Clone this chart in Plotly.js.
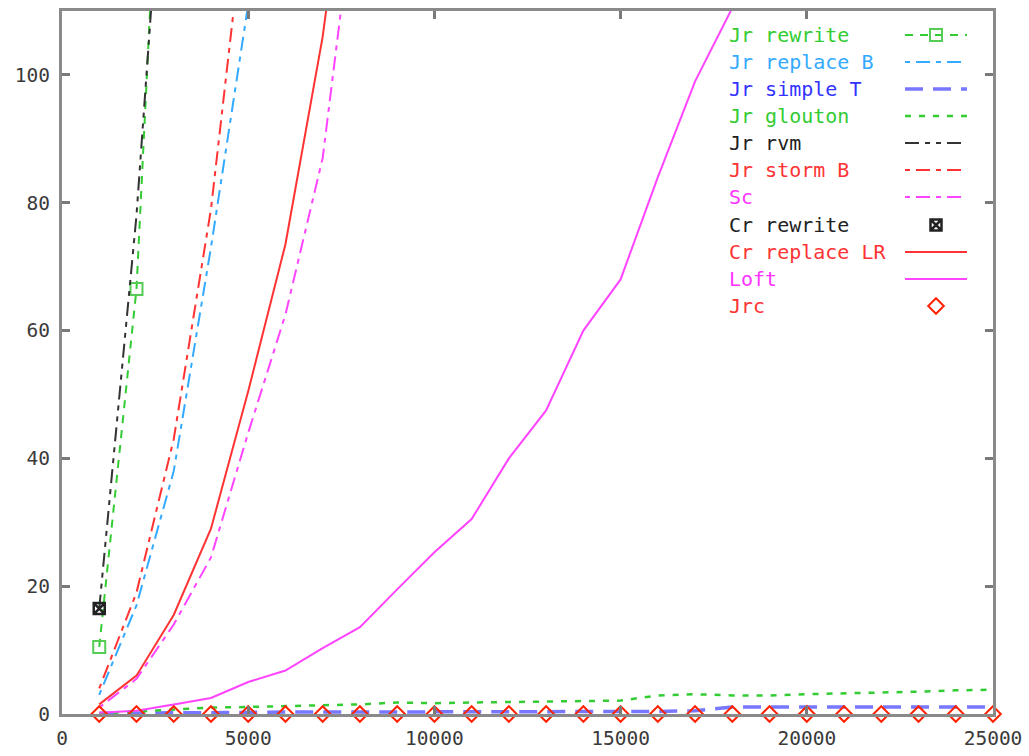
<!DOCTYPE html>
<html><head><meta charset="utf-8">
<script src="https://cdn.plot.ly/plotly-3.0.1.min.js"></script>
<style>html,body{margin:0;padding:0;background:#fff}#chart{width:1029px;height:756px}</style>
</head><body><div id="chart"></div>
<script>
// ---- data ----
const xAll = [1000,2000,3000,4000,5000,6000,7000,8000,9000,10000,11000,12000,13000,14000,15000,16000,17000,18000,19000,20000,21000,22000,23000,24000,25000];
const jrRewriteX = [1000,2000,3000];
const jrRewriteY = [10.5,66.5,186];
const jrReplaceBX = [1000,2000,3000,4000,5000,6000];
const jrReplaceBY = [3,17,38,73,111,160];
const jrSimpleTY = [0.1,0.2,0.2,0.2,0.3,0.3,0.3,0.3,0.3,0.4,0.4,0.4,0.4,0.4,0.4,0.4,0.5,1.1,1.1,1.1,1.1,1.1,1.1,1.1,1.1];
const jrGloutonY = [0.1,0.4,0.8,1.0,1.1,1.2,1.3,1.5,1.8,1.7,1.8,1.9,2.0,2.1,2.1,2.9,3.1,2.9,2.9,3.1,3.2,3.4,3.5,3.7,3.8];
const jrRvmX = [1000,2000,3000];
const jrRvmY = [16.5,78,160];
const jrStormBX = [1000,2000,3000,4000,5000];
const jrStormBY = [4,19,43,79,130];
const scX = [1000,2000,3000,4000,5000,6000,7000,8000];
const scY = [1,5.5,14,24.5,44,62.5,87,134];
const crRewriteX = [1000];
const crRewriteY = [16.5];
const crReplaceLRX = [1000,2000,3000,4000,5000,6000,7000,8000];
const crReplaceLRY = [1.5,6,15.5,29,50.5,73.5,106,150];
const loftX = [1000,2000,3000,4000,5000,6000,7000,8000,9000,10000,11000,12000,13000,14000,15000,16000,17000,18000,19000];
const loftY = [0.2,0.5,1.5,2.5,5,6.8,10.3,13.6,19.5,25.3,30.5,40,47.5,60,68,84,99,110.5,125];
const jrcY = xAll.map(() => 0);
const names = ["Jr rewrite","Jr replace B","Jr simple T","Jr glouton","Jr rvm","Jr storm B","Sc","Cr rewrite","Cr replace LR","Loft","Jrc"];
const xTicks = [0,5000,10000,15000,20000,25000];
const yTicks = [0,20,40,60,80,100];

// ---- styles ----
const styles = [
  {color:'#33cc33', dash:'8px,7px', width:2, marker:{symbol:'square-open', size:12, color:'#55cc55', line:{width:2}} , mode:'lines+markers'},
  {color:'#33aaff', dash:'5px,6px,14px,6px', width:2, mode:'lines'},
  {color:'#7777ff', dash:'18px,10px', width:3.5, mode:'lines'},
  {color:'#33cc33', dash:'6px,8px', width:2.5, mode:'lines'},
  {color:'#333333', dash:'14px,6px,5px,6px,5px,6px', width:2, mode:'lines'},
  {color:'#ff3333', dash:'5px,6px,14px,6px', width:2, mode:'lines'},
  {color:'#ff44ff', dash:'5px,6px,14px,6px', width:2, mode:'lines'},
  {color:'#222222', width:2, marker:{symbol:'square-x-open', size:11, color:'#222', line:{width:2.5}}, mode:'markers'},
  {color:'#ff3333', dash:'solid', width:2, mode:'lines'},
  {color:'#ff44ff', dash:'solid', width:2, mode:'lines'},
  {color:'#ff2200', width:2, marker:{symbol:'diamond-open', size:12, color:'#ff2200', line:{width:2}}, mode:'markers'}
];
const series = [
  [jrRewriteX, jrRewriteY],[jrReplaceBX, jrReplaceBY],[xAll, jrSimpleTY],[xAll, jrGloutonY],
  [jrRvmX, jrRvmY],[jrStormBX, jrStormBY],[scX, scY],[crRewriteX, crRewriteY],
  [crReplaceLRX, crReplaceLRY],[loftX, loftY],[xAll, jrcY]
];
const textColors = ['#33cc33','#33aaff','#3333ff','#33cc33','#222222','#ff3333','#ff33ff','#222222','#ff3333','#ff33ff','#ff3333'];

const traces = [];
series.forEach((s,i) => {
  const st = styles[i];
  const t = {x:s[0], y:s[1], type:'scatter', mode:st.mode, name:names[i], showlegend:false,
    line:{color:st.color, dash:st.dash||'solid', width:st.width}};
  if (st.marker) t.marker = st.marker;
  if (i === 10) t.cliponaxis = false;
  traces.push(t);
});

// custom legend (text left, sample right), gnuplot style
const L = 62, R = 993, T = 11, B = 714;
const rows = [35,62,89,116,143,170,197,225,252,279,306];
const fx = px => (px - L) / (R - L);
const fy = py => (B - py) / (B - T);
const annotations = [];
names.forEach((n,i) => {
  annotations.push({xref:'paper', yref:'paper', x:fx(727), y:fy(rows[i]), xanchor:'left', yanchor:'middle',
    text:n, showarrow:false, font:{family:'DejaVu Sans Mono, monospace', size:20, color:textColors[i]}});
  const st = styles[i];
  if (st.mode.indexOf('lines') >= 0) {
    traces.push({x:[fx(905), fx(967)], y:[fy(rows[i]), fy(rows[i])], xaxis:'x2', yaxis:'y2', type:'scatter', mode:'lines',
      showlegend:false, hoverinfo:'skip', line:{color:st.color, dash:st.dash||'solid', width:st.width}});
  }
  if (st.marker) {
    traces.push({x:[fx(936)], y:[fy(rows[i])], xaxis:'x2', yaxis:'y2', type:'scatter', mode:'markers',
      showlegend:false, hoverinfo:'skip', marker:st.marker, cliponaxis:false});
  }
});

const axisCommon = {showgrid:false, zeroline:false, showline:true, linecolor:'#8a8a8a', linewidth:3, mirror:'allticks',
  ticks:'inside', ticklen:8, tickwidth:3, tickcolor:'#7a7a7a',
  tickfont:{family:'DejaVu Sans Mono, monospace', size:19.5, color:'#3a3a3a'}};

const layout = {
  width:1029, height:756, margin:{l:L, r:1029-R, t:T, b:756-B}, paper_bgcolor:'#fff', plot_bgcolor:'#fff',
  showlegend:false,
  xaxis: Object.assign({}, axisCommon, {range:[0,25000], tickvals:xTicks, ticktext:xTicks.map(String), ticklabelstandoff:5}),
  yaxis: Object.assign({}, axisCommon, {range:[0,110], tickvals:yTicks, ticktext:yTicks.map(String), ticklabelstandoff:5}),
  xaxis2: {overlaying:'x', range:[0,1], visible:false, fixedrange:true},
  yaxis2: {overlaying:'y', range:[0,1], visible:false, fixedrange:true},
  annotations: annotations
};
Plotly.newPlot('chart', traces, layout, {displayModeBar:false, staticPlot:true});
</script>
</body></html>
